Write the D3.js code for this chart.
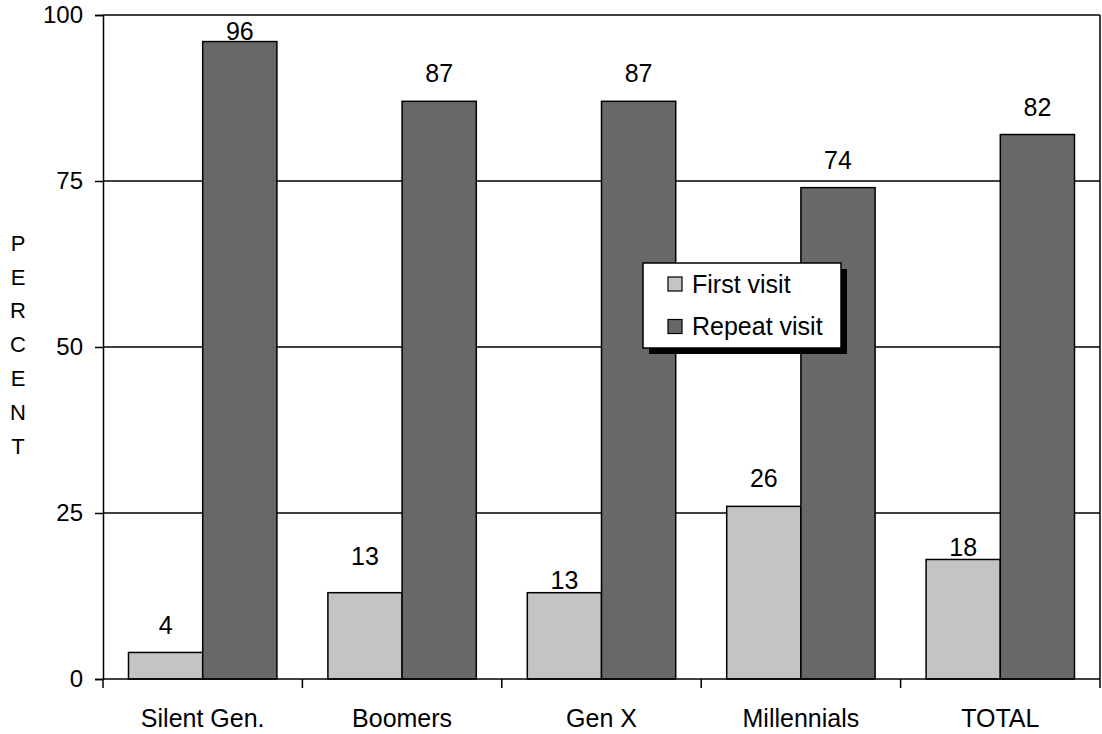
<!DOCTYPE html>
<html>
<head>
<meta charset="utf-8">
<script src="https://cdn.jsdelivr.net/npm/d3@7"></script>
<style>
  html, body { margin: 0; padding: 0; background: #fff; }
  svg { display: block; font-family: "Liberation Sans", Arial, sans-serif; }
</style>
</head>
<body>
<svg id="chart" width="1102" height="734"></svg>
<script>
// Visit type by generation (percent)
const categories = ["Silent Gen.", "Boomers", "Gen X", "Millennials", "TOTAL"];
const seriesNames = ["First visit", "Repeat visit"];
const firstVisit = [4, 13, 13, 26, 18];
const repeatVisit = [96, 87, 87, 74, 82];
const yTicks = [0, 25, 50, 75, 100];
const axisTitle = "PERCENT";

const colors = { "First visit": "#c4c4c4", "Repeat visit": "#686868" };
// distance from label baseline to bar top, per series and category
const labelGap = {
  "First visit": [18, 28, 4, 19, 3],
  "Repeat visit": [2, 19, 19, 19, 19]
};

const svg = d3.select("#chart");
const plotL = 103, plotR = 1100, plotT = 15, plotB = 679;

const x = d3.scaleBand().domain(categories).range([plotL, plotR]).padding(0);
const pad = 25.5;
const xs = d3.scaleBand().domain(seriesNames).range([pad, x.bandwidth() - pad]).padding(0);
const y = d3.scaleLinear().domain([0, 100]).range([plotB, plotT]);

// gridlines
svg.append("g").selectAll("line").data(yTicks.filter(d => d > 0)).join("line")
  .attr("x1", plotL).attr("x2", plotR)
  .attr("y1", d => y(d)).attr("y2", d => y(d))
  .attr("stroke", "#000").attr("stroke-width", 1.5);

// right border
svg.append("line").attr("x1", plotR).attr("x2", plotR).attr("y1", plotT).attr("y2", plotB)
  .attr("stroke", "#000").attr("stroke-width", 1.5);

// bars
const rows = categories.map((c, i) => ({ cat: c, i, vals: [
  { s: "First visit", v: firstVisit[i] },
  { s: "Repeat visit", v: repeatVisit[i] }
]}));

const groups = svg.append("g").selectAll("g").data(rows).join("g")
  .attr("transform", d => `translate(${x(d.cat)},0)`);

groups.selectAll("rect").data(d => d.vals).join("rect")
  .attr("x", d => xs(d.s))
  .attr("width", xs.bandwidth())
  .attr("y", d => y(d.v))
  .attr("height", d => y(0) - y(d.v))
  .attr("fill", d => colors[d.s])
  .attr("stroke", "#000").attr("stroke-width", 1.5);

groups.selectAll("text").data(d => d.vals.map(v => ({ ...v, i: d.i }))).join("text")
  .attr("x", d => xs(d.s) + xs.bandwidth() / 2)
  .attr("y", d => y(d.v) - labelGap[d.s][d.i])
  .attr("text-anchor", "middle")
  .attr("font-size", 25)
  .attr("fill", "#000")
  .text(d => d.v);

// y axis
const yAxis = d3.axisLeft(y).tickValues(yTicks).tickSize(8).tickPadding(12).tickFormat(d3.format("d"));
const gy = svg.append("g").attr("transform", `translate(${plotL},0)`).call(yAxis);
gy.select(".domain").attr("stroke", "#000").attr("stroke-width", 1.5);
gy.selectAll(".tick line").attr("stroke", "#000").attr("stroke-width", 1.5);
gy.selectAll(".tick text").attr("font-size", 24).attr("fill", "#000")
  .attr("font-family", "Liberation Sans, Arial, sans-serif");

// x axis with ticks at category boundaries
const gx = svg.append("g").attr("transform", `translate(0,${plotB})`);
gx.append("line").attr("x1", plotL).attr("x2", plotR).attr("stroke", "#000").attr("stroke-width", 1.5);
const edges = categories.map(c => x(c)).concat([plotR]);
gx.selectAll("line.tk").data(edges).join("line").attr("class", "tk")
  .attr("x1", d => d).attr("x2", d => d).attr("y1", 0).attr("y2", 9)
  .attr("stroke", "#000").attr("stroke-width", 1.5);
gx.selectAll("text").data(categories).join("text")
  .attr("x", d => x(d) + x.bandwidth() / 2)
  .attr("y", 48)
  .attr("text-anchor", "middle")
  .attr("font-size", 25)
  .attr("fill", "#000")
  .text(d => d);

// vertical axis title, one letter per line
svg.append("g").selectAll("text").data(axisTitle.split("")).join("text")
  .attr("x", 18)
  .attr("y", (d, i) => 243 + i * 33.8)
  .attr("dy", "0.35em")
  .attr("text-anchor", "middle")
  .attr("font-size", 22)
  .attr("fill", "#000")
  .text(d => d);

// legend with drop shadow
const lg = svg.append("g").attr("transform", "translate(643,263)");
const lw = 198, lh = 85;
lg.append("rect").attr("x", 6).attr("y", 6).attr("width", lw).attr("height", lh).attr("fill", "#000");
lg.append("rect").attr("width", lw).attr("height", lh).attr("fill", "#fff")
  .attr("stroke", "#000").attr("stroke-width", 1.5);
const items = lg.selectAll("g.item").data(seriesNames).join("g").attr("class", "item")
  .attr("transform", (d, i) => `translate(0,${21 + i * 42.5})`);
items.append("rect").attr("x", 25).attr("y", -7).attr("width", 14).attr("height", 14)
  .attr("fill", d => colors[d]).attr("stroke", "#000").attr("stroke-width", 1.2);
items.append("text").attr("x", 49).attr("y", 0).attr("dy", "0.35em")
  .attr("font-size", 25).attr("fill", "#000").text(d => d);
</script>
</body>
</html>
